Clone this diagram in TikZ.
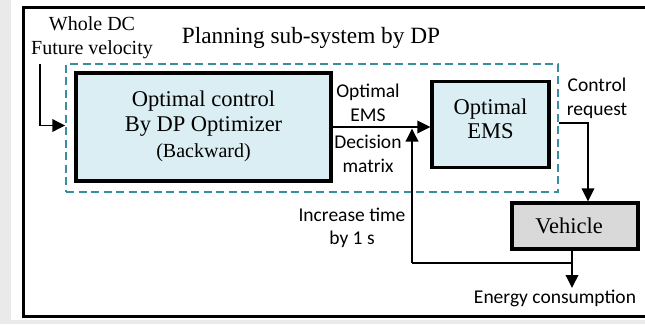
\documentclass[tikz,border=0pt]{standalone}
\usepackage{fontspec}
\setmainfont{Liberation Serif}
\newfontfamily\labelfont{Carlito}
\usetikzlibrary{arrows.meta}
\definecolor{boxblue}{RGB}{218,238,243}
\definecolor{vehgray}{RGB}{217,217,217}
\definecolor{dashteal}{RGB}{58,140,160}
\definecolor{margingray}{RGB}{234,234,234}

\begin{document}
\begin{tikzpicture}[x=1pt,y=-1pt,
  serif/.style={font=\fontsize{22.5}{25.5}\selectfont, align=center, inner sep=0pt},
  small/.style={font=\fontsize{20}{24}\selectfont, align=center, inner sep=0pt},
  lbl/.style={font=\labelfont\fontsize{19.5}{23.5}\selectfont, align=center, inner sep=0pt},
  blockbox/.style={draw, line width=3.3pt, fill=boxblue, inner sep=0pt},
  link/.style={line width=1.9pt},
  arr/.style={line width=1.9pt, -{Triangle[length=13pt,width=12.5pt]}},
  planbox/.style={draw=dashteal, line width=1.5pt, dash pattern=on 8pt off 4.5pt}]
  \useasboundingbox (0,0) rectangle (645,324);
  \clip (0,0) rectangle (645,324);

  % page margins and outer frame
  \fill[white] (0,0) rectangle (645,324);
  \fill[margingray] (0,0) rectangle (11,324);
  \fill[margingray] (0,320) rectangle (645,324);
  \draw[line width=3pt] (23.5,7) rectangle (670,316.5);

  % planning sub-system
  \node[planbox, minimum width=492pt, minimum height=128pt] (plan) at (312,128) {};
  \node[serif, font=\fontsize{23.3}{26}\selectfont] (plantitle) at (311,38) {Planning sub-system by DP};

  % blocks
  \node[blockbox, minimum width=255pt, minimum height=108pt] (ctrl) at (203.5,127) {};
  \node[serif] (ctrltext) at (203.5,126) {Optimal control\\By DP Optimizer\\[0pt]{\fontsize{20}{24}\selectfont(Backward)}};
  \node[blockbox, minimum width=117pt, minimum height=86pt] (ems) at (490.5,124.5) {};
  \node[serif, font=\fontsize{22.5}{24}\selectfont] (emstext) at (490.5,119) {Optimal\\EMS};
  \node[blockbox, fill=vehgray, minimum width=126pt, minimum height=46pt] (veh) at (575,226) {};
  \node[serif] (vehtext) at (569,226) {Vehicle};

  % inputs and labels
  \node[small] (input) at (92,38) {Whole DC\\Future velocity};
  \node[lbl] (emsout) at (368,103) {Optimal\\EMS};
  \node[lbl] (decision) at (368,154) {Decision\\matrix};
  \node[lbl] (increase) at (352,228) {Increase time\\by 1 s};
  \node[lbl] (request) at (597,98.5) {Control\\request};
  \node[lbl] (energy) at (555,298) {Energy consumption};

  \coordinate (inTop) at (40,64);
  \coordinate (split) at (572,263);
  \coordinate (fbCorner) at (412,263);
  \coordinate (eTip) at (572,288);

  % connectors
  \draw[arr] (inTop) |- ([yshift=2.5pt]plan.west);
  \draw[arr] (ctrl.east) -- (ems.west |- ctrl.east);
  \draw[arr] ([yshift=5pt]plan.east) -| ([xshift=13pt]veh.north);
  \draw[arr] ([xshift=-3pt]veh.south) -- (eTip);
  \draw[link] (split) -- (fbCorner);
  \draw[arr, shorten >=1.5pt] (fbCorner) -- (fbCorner |- ctrl.east);
\end{tikzpicture}
\end{document}
